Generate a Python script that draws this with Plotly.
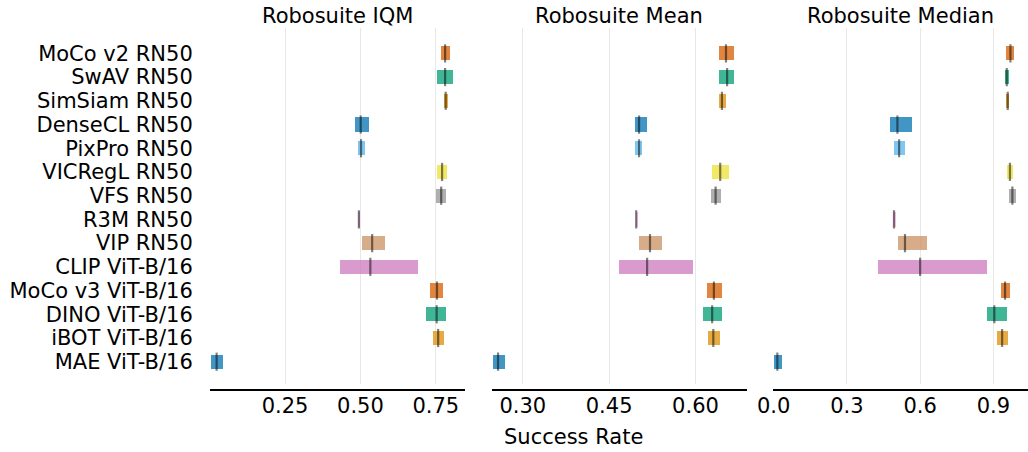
import plotly.graph_objects as go

categories = ["MoCo v2 RN50", "SwAV RN50", "SimSiam RN50", "DenseCL RN50", "PixPro RN50",
              "VICRegL RN50", "VFS RN50", "R3M RN50", "VIP RN50", "CLIP ViT-B/16",
              "MoCo v3 ViT-B/16", "DINO ViT-B/16", "iBOT ViT-B/16", "MAE ViT-B/16"]
colors = ["#D55E00", "#029E73", "#DE8F05", "#0173B2", "#56B4E9", "#ECE133", "#949494",
          "#FBAFE4", "#CA9161", "#CC78BC", "#D55E00", "#029E73", "#DE8F05", "#0173B2"]

iqm_low = [0.768, 0.754, 0.778, 0.482, 0.491, 0.754, 0.751, 0.491, 0.506, 0.432, 0.730, 0.717, 0.740, 0.003]
iqm_high = [0.797, 0.807, 0.791, 0.528, 0.515, 0.787, 0.784, 0.499, 0.582, 0.690, 0.773, 0.784, 0.777, 0.043]
iqm_med = [0.781, 0.781, 0.783, 0.501, 0.502, 0.771, 0.768, 0.495, 0.539, 0.533, 0.754, 0.753, 0.758, 0.023]

mean_low = [0.640, 0.641, 0.641, 0.494, 0.495, 0.629, 0.626, 0.496, 0.502, 0.466, 0.620, 0.612, 0.622, 0.247]
mean_high = [0.666, 0.667, 0.653, 0.516, 0.507, 0.657, 0.643, 0.500, 0.542, 0.596, 0.646, 0.645, 0.642, 0.268]
mean_med = [0.653, 0.655, 0.646, 0.502, 0.502, 0.643, 0.635, 0.497, 0.521, 0.516, 0.632, 0.629, 0.631, 0.257]

median_low = [0.952, 0.948, 0.952, 0.476, 0.493, 0.956, 0.964, 0.489, 0.509, 0.427, 0.932, 0.874, 0.915, 0.001]
median_high = [0.985, 0.964, 0.964, 0.566, 0.538, 0.981, 0.993, 0.498, 0.628, 0.874, 0.969, 0.956, 0.960, 0.034]
median_med = [0.970, 0.955, 0.959, 0.507, 0.514, 0.968, 0.978, 0.493, 0.538, 0.600, 0.948, 0.904, 0.936, 0.015]

titles = ["Robosuite IQM", "Robosuite Mean", "Robosuite Median"]
x_ranges = [[0.001, 0.847], [0.246, 0.689], [-0.004, 1.042]]
x_tickvals = [[0.25, 0.50, 0.75], [0.30, 0.45, 0.60], [0.0, 0.3, 0.6, 0.9]]
x_ticktext = [["0.25", "0.50", "0.75"], ["0.30", "0.45", "0.60"], ["0.0", "0.3", "0.6", "0.9"]]
x_label = "Success Rate"

W, H = 1028, 452
FONT = "DejaVu Sans"
FS = 21


def rgba(hexc, a):
    h = hexc.lstrip("#")
    return "rgba(%d,%d,%d,%g)" % (int(h[0:2], 16), int(h[2:4], 16), int(h[4:6], 16), a)


ypos = list(range(len(categories)))
panels = [(iqm_low, iqm_high, iqm_med), (mean_low, mean_high, mean_med),
          (median_low, median_high, median_med)]
domains_px = [(210, 465), (491.7, 746.7), (772.7, 1028)]

fig = go.Figure()
layout = dict(width=W, height=H, margin=dict(l=0, r=0, t=0, b=0, autoexpand=False),
              paper_bgcolor="white", plot_bgcolor="white", showlegend=False,
              font=dict(family=FONT, size=FS, color="black"), bargap=0)
annotations = []
ydom = [1 - 384 / H, 1 - 28 / H]
for k, (lo, hi, md) in enumerate(panels):
    sfx = "" if k == 0 else str(k + 1)
    xa, ya = "x" + sfx, "y" + sfx
    fig.add_trace(go.Bar(
        orientation="h", y=ypos, base=lo, x=[h - l for l, h in zip(lo, hi)],
        width=0.6, marker=dict(color=[rgba(c, 0.75) for c in colors], line=dict(width=0)),
        xaxis=xa, yaxis=ya, hoverinfo="skip"))
    fig.add_trace(go.Scatter(
        x=md, y=ypos, mode="markers",
        marker=dict(symbol="line-ns", size=13, line=dict(width=2.2, color="rgba(0,0,0,0.5)")),
        xaxis=xa, yaxis=ya, hoverinfo="skip"))
    d0, d1 = domains_px[k]
    layout["xaxis" + sfx] = dict(
        domain=[d0 / W, d1 / W], anchor="free", position=1 - 390 / H,
        range=x_ranges[k], tickvals=x_tickvals[k], ticktext=x_ticktext[k],
        showgrid=True, gridcolor="#e8e8e8", gridwidth=1.2, zeroline=False,
        showline=True, linecolor="black", linewidth=2, automargin=False,
        ticks="", ticklabelstandoff=-3,
        tickfont=dict(family=FONT, size=FS, color="black"))
    yax = dict(domain=ydom, anchor=xa, range=[13.94, -1.07], showgrid=False,
               zeroline=False, showline=False, automargin=False,
               tickvals=ypos, ticktext=categories if k == 0 else None,
               showticklabels=(k == 0), ticks="outside" if k == 0 else "",
               ticklen=12, tickcolor="rgba(0,0,0,0)",
               tickfont=dict(family=FONT, size=FS, color="black"))
    layout["yaxis" + sfx] = yax
    annotations.append(dict(text=titles[k], x=(d0 + d1) / 2 / W, y=1 - 15.5 / H,
                            xref="paper", yref="paper", xanchor="center", yanchor="middle",
                            showarrow=False, font=dict(family=FONT, size=FS, color="black")))
annotations.append(dict(text=x_label, x=573.5 / W, y=1 - 436.5 / H, xref="paper", yref="paper",
                        xanchor="center", yanchor="middle", showarrow=False,
                        font=dict(family=FONT, size=FS, color="black")))
layout["annotations"] = annotations
fig.update_layout(**layout)
fig.write_html("out.html")
